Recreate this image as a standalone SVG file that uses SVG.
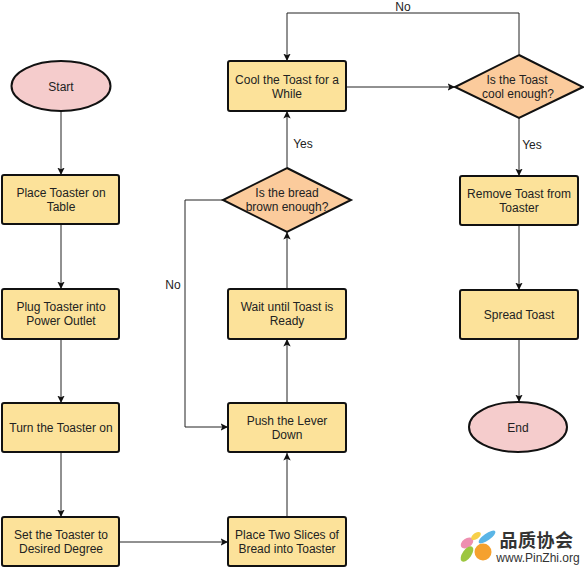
<svg xmlns="http://www.w3.org/2000/svg" width="584" height="568" viewBox="0 0 584 568">
<style>
text{font-family:"Liberation Sans",Arial,sans-serif;font-size:12px;fill:#222;text-anchor:middle}
.p{fill:#fce29a;stroke:#111;stroke-width:2}
.d{fill:#fbcb9c;stroke:#111;stroke-width:2}
.t{fill:#f5cccc;stroke:#111;stroke-width:2}
.c{fill:none;stroke:#222;stroke-width:1;marker-end:url(#a)}
</style>
<defs>
<marker id="a" markerUnits="userSpaceOnUse" viewBox="0 0 8 8" refX="7.5" refY="4" markerWidth="8" markerHeight="8" orient="auto">
<path d="M0 0.3L7.5 4L0 7.7L1.8 4Z" fill="#111"/>
</marker>
</defs>
<rect width="584" height="568" fill="#fff"/>
<g id="connectors">
<path class="c" d="M61 111V175"/>
<path class="c" d="M61 224V289"/>
<path class="c" d="M61 339V403"/>
<path class="c" d="M61 452V517"/>
<path class="c" d="M120 542H228"/>
<path class="c" d="M287 517V453"/>
<path class="c" d="M287 403V339"/>
<path class="c" d="M287 289V232"/>
<path class="c" d="M287 167V111"/>
<path class="c" d="M223 200H185V427H228"/>
<path class="c" d="M346 87H455"/>
<path class="c" d="M519 54V13H287V61"/>
<path class="c" d="M519 118V176"/>
<path class="c" d="M519 225V290"/>
<path class="c" d="M519 339V402"/>
<text x="403" y="11">No</text>
<text x="303" y="148">Yes</text>
<text x="173" y="289">No</text>
<text x="532" y="149">Yes</text>
</g>
<g id="start"><ellipse class="t" cx="61" cy="86" rx="49.500" ry="25"/><text x="61" y="91">Start</text></g>
<g id="place"><rect class="p" x="2" y="175" width="117" height="49" rx="2"/><text x="61" y="197">Place Toaster on</text><text x="61" y="211">Table</text></g>
<g id="plug"><rect class="p" x="2" y="289" width="117" height="50" rx="2"/><text x="61" y="311">Plug Toaster into</text><text x="61" y="325">Power Outlet</text></g>
<g id="turn"><rect class="p" x="2" y="403" width="117" height="49" rx="2"/><text x="61" y="432">Turn the Toaster on</text></g>
<g id="set"><rect class="p" x="2" y="517" width="117" height="49" rx="2"/><text x="61" y="539">Set the Toaster to</text><text x="61" y="553">Desired Degree</text></g>
<g id="slices"><rect class="p" x="228" y="517" width="118" height="49" rx="2"/><text x="287" y="539">Place Two Slices of</text><text x="287" y="553">Bread into Toaster</text></g>
<g id="push"><rect class="p" x="228" y="403" width="118" height="49" rx="2"/><text x="287" y="425">Push the Lever</text><text x="287" y="439">Down</text></g>
<g id="wait"><rect class="p" x="228" y="289" width="118" height="50" rx="2"/><text x="287" y="311">Wait until Toast is</text><text x="287" y="325">Ready</text></g>
<g id="brown"><polygon class="d" points="287,168 351,200 287,232 223,200"/><text x="287" y="197">Is the bread</text><text x="287" y="211">brown enough?</text></g>
<g id="cool"><rect class="p" x="228" y="61" width="118" height="50" rx="2"/><text x="287" y="84">Cool the Toast for a</text><text x="287" y="98">While</text></g>
<g id="cooled"><polygon class="d" points="519,55 583,87 519,118 455,87"/><text x="517" y="84">Is the Toast</text><text x="518" y="98">cool enough?</text></g>
<g id="remove"><rect class="p" x="460" y="176" width="118" height="49" rx="2"/><text x="519" y="198">Remove Toast from</text><text x="519" y="212">Toaster</text></g>
<g id="spread"><rect class="p" x="460" y="290" width="118" height="49" rx="2"/><text x="519" y="319">Spread Toast</text></g>
<g id="end"><ellipse class="t" cx="518" cy="427" rx="49" ry="25"/><text x="518" y="432">End</text></g>
<g id="logo">
<ellipse cx="467" cy="543" rx="7" ry="4.500" fill="#ee8fb0" transform="rotate(-35 467 543)"/>
<ellipse cx="467" cy="554" rx="4.500" ry="9" fill="#9cc63f" transform="rotate(35 467 554)"/>
<ellipse cx="476" cy="536" rx="5.500" ry="3" fill="#f7d04a" transform="rotate(-35 476 536)"/>
<ellipse cx="487" cy="537" rx="10" ry="3.500" fill="#5ab5e6" transform="rotate(-35 487 537)"/>
<circle cx="483" cy="552" r="8.500" fill="#f5a12e"/>
<text x="536.500" y="547" style="font-family:'Noto Sans CJK SC',sans-serif;font-size:18px;font-weight:700;fill:#333;letter-spacing:.5px">品质协会</text>
<text x="538" y="562" style="font-size:12px;fill:#333">www.PinZhi.org</text>
</g>
</svg>
